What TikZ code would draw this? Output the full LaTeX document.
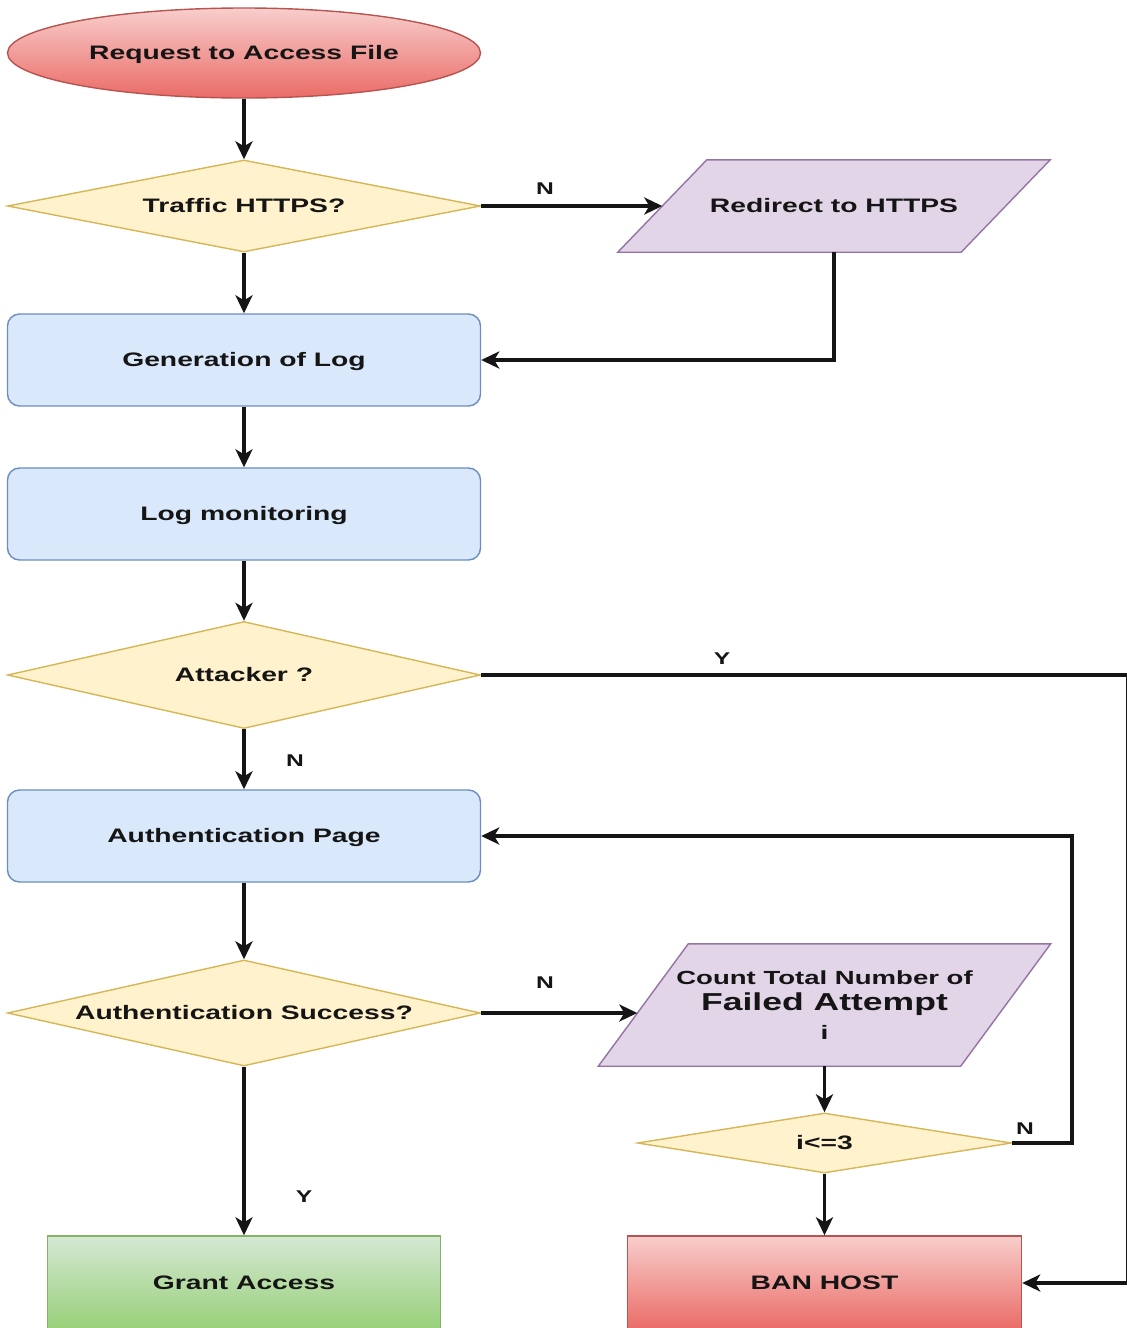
\documentclass[tikz,border=0pt]{standalone}
\usepackage{fontspec}
\newfontfamily\flowfont{Liberation Sans}[FakeStretch=1.45]
\usetikzlibrary{shapes.geometric,arrows.meta,backgrounds}
\definecolor{termtop}{HTML}{F8CECC}
\definecolor{termbot}{HTML}{EA6B66}
\definecolor{termline}{HTML}{B85450}
\definecolor{decfill}{HTML}{FFF2CC}
\definecolor{decline}{HTML}{D6B656}
\definecolor{iofill}{HTML}{E1D5E7}
\definecolor{ioline}{HTML}{9673A6}
\definecolor{procfill}{HTML}{DAE8FC}
\definecolor{procline}{HTML}{6C8EBF}
\definecolor{oktop}{HTML}{D5E8D4}
\definecolor{okbot}{HTML}{97D077}
\definecolor{okline}{HTML}{82B366}
\definecolor{inkc}{HTML}{151515}
\begin{document}
\begin{tikzpicture}[x=1pt,y=-1pt,
  every node/.style={font=\flowfont\bfseries\fontsize{19.5}{23}\selectfont, text=inkc},
  oneline/.style={text height=17pt, text depth=4pt},
  shapeline/.style={line width=1.4pt},
  terminal/.style={shapeline, oneline, ellipse, draw=termline, top color=termtop, bottom color=termbot,
    minimum width=473pt, minimum height=90pt, inner sep=0pt},
  decision/.style={shapeline, oneline, diamond, draw=decline, fill=decfill, inner sep=0pt, shape aspect=5},
  process/.style={shapeline, oneline, rectangle, rounded corners=12pt, draw=procline, fill=procfill,
    minimum width=473pt, minimum height=92pt},
  iotext/.style={rectangle, inner sep=0pt},
  iobox/.style={shapeline, draw=ioline, fill=iofill},
  goodend/.style={shapeline, oneline, rectangle, draw=okline, top color=oktop, bottom color=okbot,
    minimum width=393pt, minimum height=94pt},
  badend/.style={shapeline, oneline, rectangle, draw=termline, top color=termtop, bottom color=termbot,
    minimum width=394pt, minimum height=94pt},
  flow/.style={line width=3.2pt, draw=inkc, -{Stealth[length=18pt,width=17pt,inset=5pt]}},
  tag/.style={oneline, font=\flowfont\bfseries\fontsize{17}{20}\selectfont}
]
\useasboundingbox (0,0) rectangle (1127,1328);

% main column
\node[terminal] (req) at (244,53) {Request to Access File};
\node[decision, minimum width=473pt, minimum height=92pt] (https) at (244,206) {Traffic HTTPS?};
\node[process] (genlog) at (244,360) {Generation of Log};
\node[process] (logmon) at (244,514) {Log monitoring};
\node[decision, minimum width=473pt, minimum height=107pt] (attack) at (244,675) {Attacker ?};
\node[process] (authpg) at (244,836) {Authentication Page};
\node[decision, minimum width=473pt, minimum height=106pt] (authok) at (244,1013) {Authentication Success?};
\node[goodend] (grant) at (244,1283) {Grant Access};

% right column
\node[iotext, oneline, minimum width=432pt, minimum height=92pt] (redir) at (834,206) {Redirect to HTTPS};
\node[iotext, minimum width=452pt, minimum height=122pt, align=center] (count) at (824.5,1005)
  {{\fontsize{19}{22}\selectfont Count Total Number of}\\[3pt]
   {\fontsize{24.5}{28}\selectfont Failed Attempt}\\[6pt] i};
\node[decision, minimum width=374pt, minimum height=60pt] (icheck) at (824.5,1143) {i<=3};
\node[badend] (ban) at (824.5,1283) {BAN HOST};

% parallelogram outlines behind the two input/output texts
\begin{scope}[on background layer]
  \draw[iobox] (redir.south west) -- ([xshift=89pt]redir.north west)
    -- (redir.north east) -- ([xshift=-89pt]redir.south east) -- cycle;
  \draw[iobox] (count.south west) -- ([xshift=90pt]count.north west)
    -- (count.north east) -- ([xshift=-90pt]count.south east) -- cycle;
\end{scope}

% entry points on the slanted sides and bend points of the long connectors
\coordinate (redirin) at ([xshift=44.5pt]redir.west);
\coordinate (countin) at ([xshift=39pt,yshift=53pt]count.south west);
\coordinate (rim) at (1127.2,675);
\coordinate (loopback) at (1072,1143);

% connectors
\draw[flow] (req) -- (https);
\draw[flow] (https) -- (redirin);
\draw[flow] (redir.south) |- (genlog.east);
\draw[flow] (https) -- (genlog);
\draw[flow] (genlog) -- (logmon);
\draw[flow] (logmon) -- (attack);
\draw[flow] (attack) -- (authpg);
\draw[flow] (attack.east) -- (rim) |- (ban.east);
\draw[flow] (authpg) -- (authok);
\draw[flow] (authok.east) -- (countin |- authok.east);
\draw[flow] (count.south) -- (icheck.north);
\draw[flow] (icheck.east) -- (loopback) |- (authpg.east);
\draw[flow] (icheck) -- (ban);
\draw[flow] (authok) -- (grant);

% branch labels
\node[tag] (n1) at (545,188) {N};
\node[tag] (y1) at (722,658) {Y};
\node[tag] (n2) at (295,760) {N};
\node[tag] (n3) at (545,982) {N};
\node[tag] (n4) at (1025,1128) {N};
\node[tag] (y2) at (304,1196) {Y};
\end{tikzpicture}
\end{document}
